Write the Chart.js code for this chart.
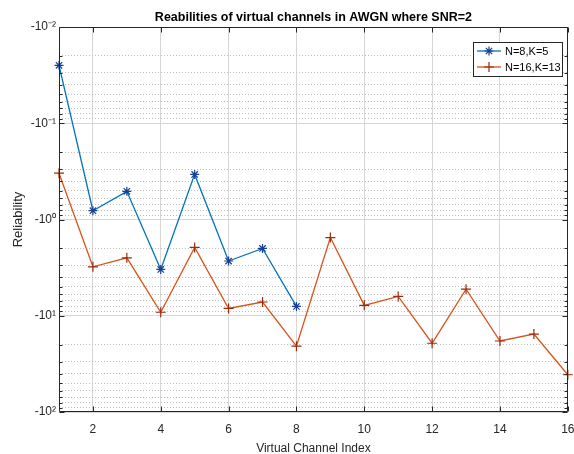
<!DOCTYPE html>
<html><head><meta charset="utf-8">
<script src="https://cdn.jsdelivr.net/npm/chart.js@4/dist/chart.umd.min.js"></script>
<style>html,body{margin:0;padding:0;background:#fff}#wrap{width:574px;height:454px}</style>
</head><body><div id="wrap"><canvas id="c" width="574" height="454"></canvas></div>
<script>
const channelIndex = [1,2,3,4,5,6,7,8,9,10,11,12,13,14,15,16];
const seriesNames = ['N=8,K=5','N=16,K=13'];
const reliabilityN8 = [-0.025,-0.81,-0.51,-3.3,-0.34,-2.7,-2.0,-8.0];
const reliabilityN16 = [-0.33,-3.1,-2.5,-9.2,-1.95,-8.4,-7.2,-20.7,-1.54,-7.8,-6.3,-19.3,-5.3,-18.3,-15.5,-41];
const xTickValues = [2,4,6,8,10,12,14,16];
const yDecadeValues = [-0.01,-0.1,-1,-10,-100];
const yTickLabels = ['-10\u207B\u00B2','-10\u207B\u00B9','-10\u2070','-10\u00B9','-10\u00B2'];
const titleText = 'Reabilities of virtual channels in AWGN where SNR=2';
const xTitle = 'Virtual Channel Index';
const yTitle = 'Reliability';

const FONT = "'Liberation Sans', Arial, sans-serif";
const lineColors = ['#0072BD','#D95319'];
const markerColors = ['#17408f','#9c2a0e'];
const markerStyles = ['star','cross'];

const toPoints = arr => arr.map((v,i) => ({x: channelIndex[i], y: Math.abs(v)}));
const decadeMags = yDecadeValues.map(v => Math.abs(v));
const isDecade = v => Math.abs(Math.log10(v) - Math.round(Math.log10(v))) < 1e-9;
const yGridValues = [];
for (let e = Math.round(Math.log10(decadeMags[0])); e < Math.round(Math.log10(decadeMags[decadeMags.length-1])); e++) {
  for (let k = 1; k <= 9; k++) yGridValues.push(k * Math.pow(10, e));
}
yGridValues.push(decadeMags[decadeMags.length-1]);

const framePlugin = {
  id: 'frame',
  afterDraw(chart) {
    const {ctx, chartArea: a, scales} = chart;
    const L = Math.round(a.left)+0.5, R = Math.round(a.right)-0.5, T = Math.round(a.top)+0.5, B = Math.round(a.bottom)-0.5;
    ctx.save();
    ctx.strokeStyle = '#262626';
    ctx.lineWidth = 1;
    ctx.beginPath();
    ctx.rect(L, T, R-L, B-T);
    xTickValues.forEach(v => {
      const px = Math.round(scales.x.getPixelForValue(v))+0.5;
      ctx.moveTo(px, B); ctx.lineTo(px, B-5);
      ctx.moveTo(px, T); ctx.lineTo(px, T+5);
    });
    yGridValues.forEach(v => {
      const py = Math.round(scales.y.getPixelForValue(v))+0.5;
      const len = isDecade(v) ? 5 : 3;
      ctx.moveTo(L, py); ctx.lineTo(L+len, py);
      ctx.moveTo(R, py); ctx.lineTo(R-len, py);
    });
    ctx.stroke();

    // legend box
    const bx = 473.5, by = 42.5, bw = 89, bh = 34;
    ctx.fillStyle = '#fff';
    ctx.fillRect(bx, by, bw, bh);
    ctx.strokeStyle = '#262626';
    ctx.strokeRect(bx, by, bw, bh);
    chart.data.datasets.forEach((ds, i) => {
      const cy = 51 + i*16;
      ctx.strokeStyle = ds.borderColor;
      ctx.lineWidth = 1.3;
      ctx.beginPath();
      ctx.moveTo(477, cy); ctx.lineTo(501, cy);
      ctx.stroke();
      ctx.strokeStyle = ds.pointBorderColor;
      ctx.lineWidth = 1.2;
      ctx.beginPath();
      const r = ds.pointRadius;
      ctx.moveTo(489-r, cy); ctx.lineTo(489+r, cy);
      ctx.moveTo(489, cy-r); ctx.lineTo(489, cy+r);
      if (ds.pointStyle === 'star') {
        const d = r*0.7071;
        ctx.moveTo(489-d, cy-d); ctx.lineTo(489+d, cy+d);
        ctx.moveTo(489-d, cy+d); ctx.lineTo(489+d, cy-d);
      }
      ctx.stroke();
      ctx.fillStyle = '#000';
      ctx.font = "11px " + FONT;
      ctx.textBaseline = 'middle';
      ctx.textAlign = 'left';
      ctx.fillText(ds.label, 505, cy+0.5);
    });
    ctx.restore();
  }
};

const datasets = [reliabilityN8, reliabilityN16].map((arr, i) => ({
  label: seriesNames[i],
  data: toPoints(arr),
  borderColor: lineColors[i],
  borderWidth: 1.3,
  pointStyle: markerStyles[i],
  pointRadius: i === 0 ? 4.5 : 5,
  pointBorderColor: markerColors[i],
  pointBorderWidth: 1.2,
  pointBackgroundColor: markerColors[i],
  tension: 0,
  fill: false,
  clip: false
}));

new Chart(document.getElementById('c'), {
  type: 'line',
  data: { datasets },
  plugins: [framePlugin],
  options: {
    responsive: false,
    devicePixelRatio: 1,
    animation: false,
    layout: { padding: { left: 0, right: 1, top: 0, bottom: 0 } },
    plugins: {
      legend: { display: false },
      tooltip: { enabled: false },
      title: {
        display: true, text: titleText, fullSize: false, color: '#000',
        font: { family: FONT, size: 12.5, weight: 'bold' },
        padding: { top: 10, bottom: 2 }
      }
    },
    scales: {
      x: {
        type: 'linear', min: 1, max: 16,
        afterBuildTicks: s => { s.ticks = xTickValues.map(v => ({value: v})); },
        afterFit: s => { s.height = 42; s.paddingLeft = 0; s.paddingRight = 0; },
        ticks: { autoSkip: false, maxRotation: 0, color: '#262626', padding: 10,
                 font: { family: FONT, size: 12 }, callback: v => String(v) },
        grid: { color: '#d6d6d6', lineWidth: 1, drawTicks: false },
        border: { display: false },
        title: { display: true, text: xTitle, color: '#262626',
                 font: { family: FONT, size: 12 }, padding: { top: 0, bottom: -1.5 } }
      },
      y: {
        type: 'logarithmic', reverse: true,
        min: decadeMags[0], max: decadeMags[decadeMags.length-1],
        afterBuildTicks: s => { s.ticks = yGridValues.map(v => ({value: v})); },
        afterFit: s => { s.width = 59; s.paddingTop = 0; s.paddingBottom = 0; },
        ticks: { autoSkip: false, color: '#262626', padding: 3,
                 font: { family: FONT, size: 12 },
                 callback: v => { const i = decadeMags.findIndex(d => Math.abs(d - v) / d < 1e-9); return i >= 0 ? yTickLabels[i] : ''; } },
        grid: {
          drawTicks: false, lineWidth: 1,
          color: c => (c.tick && isDecade(c.tick.value)) ? '#d6d6d6' : '#bdbdbd'
        },
        border: { display: false, dash: c => (c.tick && !isDecade(c.tick.value)) ? [1, 2] : [] },
        title: { display: true, text: yTitle, color: '#262626',
                 font: { family: FONT, size: 13 }, padding: { top: 11, bottom: 0 } }
      }
    }
  }
});
</script></body></html>
